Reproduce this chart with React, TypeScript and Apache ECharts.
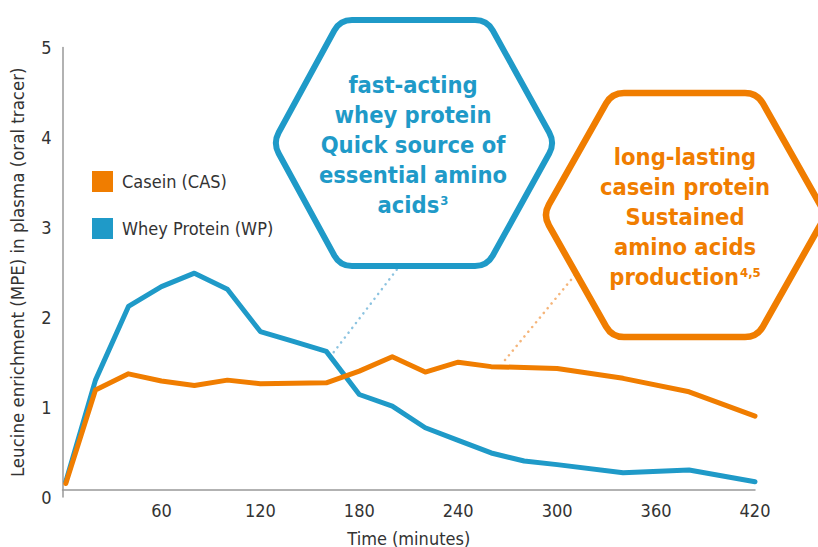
import React, { useEffect, useRef } from "react";
import * as echarts from "echarts";

const times = [2, 20, 40, 60, 80, 100, 120, 140, 160, 180, 200, 220, 240, 260, 280, 300, 340, 380, 420];
const casein = [0.15, 1.19, 1.37, 1.29, 1.24, 1.3, 1.26, 1.265, 1.27, 1.4, 1.56, 1.39, 1.5, 1.45, 1.44, 1.43, 1.32, 1.17, 0.9];
const whey = [0.17, 1.3, 2.12, 2.34, 2.49, 2.31, 1.84, 1.73, 1.62, 1.14, 1.01, 0.77, 0.63, 0.49, 0.4, 0.36, 0.27, 0.3, 0.17];
const seriesNames = ["Casein (CAS)", "Whey Protein (WP)"];
const xTicks = [60, 120, 180, 240, 300, 360, 420];
const blueText = ["fast-acting", "whey protein", "Quick source of", "essential amino", "acids"];
const orangeText = ["long-lasting", "casein protein", "Sustained", "amino acids", "production"];

const ORANGE = "#f07d00";
const BLUE = "#1f9ac8";
const FONT = "'DejaVu Sans Condensed', 'Liberation Sans Narrow', 'Noto Sans', sans-serif";

function roundedPath(pts: number[][], r: number): string {
  const n = pts.length;
  let d = "";
  for (let i = 0; i < n; i++) {
    const p0 = pts[(i - 1 + n) % n];
    const p1 = pts[i];
    const p2 = pts[(i + 1) % n];
    const v1 = [p0[0] - p1[0], p0[1] - p1[1]];
    const v2 = [p2[0] - p1[0], p2[1] - p1[1]];
    const l1 = Math.hypot(v1[0], v1[1]);
    const l2 = Math.hypot(v2[0], v2[1]);
    const a = [p1[0] + (v1[0] / l1) * r, p1[1] + (v1[1] / l1) * r];
    const b = [p1[0] + (v2[0] / l2) * r, p1[1] + (v2[1] / l2) * r];
    d += (i === 0 ? "M" : "L") + a[0].toFixed(1) + " " + a[1].toFixed(1) + " ";
    d += "Q" + p1[0] + " " + p1[1] + " " + b[0].toFixed(1) + " " + b[1].toFixed(1) + " ";
  }
  return d + "Z";
}

const hexBlue = [[340, 20], [487, 20], [555, 143], [487, 266], [340, 266], [273, 143]];
const hexOrange = [[612, 93], [757, 93], [826, 215], [757, 337], [612, 337], [543, 215]];

let registered = false;

export default function App() {
  const ref = useRef<HTMLDivElement>(null);
  useEffect(() => {
    if (!registered) {
      echarts.graphic.registerShape("hexBlue", echarts.graphic.extendPath(roundedPath(hexBlue, 12), {}));
      echarts.graphic.registerShape("hexOrange", echarts.graphic.extendPath(roundedPath(hexOrange, 12), {}));
      registered = true;
    }
    const chart = echarts.init(ref.current!, null, { renderer: "svg" });
    const mk = (lines: string[], sup: string) =>
      lines.map((l, i) => (i === lines.length - 1 ? `{m|${l}}{s|${sup}}` : `{m|${l}}`)).join("\n");
    const rich = (color: string) => ({
      m: { fontFamily: FONT, fontWeight: "bold", fontSize: 23.5, fill: color, lineHeight: 30 },
      s: { fontFamily: FONT, fontWeight: "bold", fontSize: 13, fill: color, lineHeight: 30, padding: [0, 0, 10, 1] },
    });
    chart.setOption({
      animation: false,
      grid: { left: 62.5, right: 63, top: 47.5, bottom: 50, containLabel: false, outerBoundsMode: "none" },
      legend: {
        orient: "vertical",
        left: 92,
        top: 171,
        padding: 0,
        itemWidth: 21,
        itemHeight: 21,
        itemGap: 26,
        icon: "rect",
        textStyle: { fontFamily: FONT, fontSize: 18, color: "#333", padding: [0, 0, 0, 4] },
        data: seriesNames,
      },
      xAxis: {
        type: "value",
        min: 0,
        max: 420,
        interval: 60,
        offset: -7,
        name: "Time (minutes)",
        nameLocation: "middle",
        nameGap: 39,
        nameTextStyle: { fontFamily: FONT, fontSize: 18, color: "#333" },
        axisLine: { onZero: false, lineStyle: { color: "#999", width: 1.5 } },
        axisTick: { show: false },
        splitLine: { show: false },
        axisLabel: {
          fontFamily: FONT,
          fontSize: 18,
          color: "#333",
          margin: 11,
          formatter: (v: number) => (xTicks.includes(v) ? String(v) : ""),
        },
      },
      yAxis: {
        type: "value",
        min: 0,
        max: 5,
        interval: 1,
        name: "Leucine enrichment (MPE) in plasma (oral tracer)",
        nameLocation: "middle",
        nameGap: 36,
        nameTextStyle: { fontFamily: FONT, fontSize: 18.5, color: "#333" },
        axisLine: { show: true, lineStyle: { color: "#999", width: 1.5 } },
        axisTick: { show: false },
        splitLine: { show: false },
        axisLabel: { fontFamily: FONT, fontSize: 18, color: "#333", margin: 11 },
      },
      series: [
        {
          name: seriesNames[0],
          type: "line",
          data: times.map((t, i) => [t, casein[i]]),
          showSymbol: false,
          symbol: "none",
          itemStyle: { color: ORANGE },
          lineStyle: { color: ORANGE, width: 5, cap: "round", join: "round" },
          z: 3,
        },
        {
          name: seriesNames[1],
          type: "line",
          data: times.map((t, i) => [t, whey[i]]),
          showSymbol: false,
          symbol: "none",
          itemStyle: { color: BLUE },
          lineStyle: { color: BLUE, width: 5, cap: "round", join: "round" },
          z: 2,
        },
      ],
      graphic: [
        {
          type: "line",
          shape: { x1: 330, y1: 357, x2: 398, y2: 268 },
          style: { stroke: "#8cc3e0", lineWidth: 2.5, lineDash: [0.1, 6], lineCap: "round" },
          z: 1,
        },
        {
          type: "line",
          shape: { x1: 505, y1: 360, x2: 575, y2: 275 },
          style: { stroke: "#f5b57a", lineWidth: 2.5, lineDash: [0.1, 6], lineCap: "round" },
          z: 1,
        },
        {
          type: "hexBlue",
          x: 0,
          y: 0,
          style: { fill: "#fff", stroke: BLUE, lineWidth: 6 },
          z: 10,
        },
        {
          type: "hexOrange",
          x: 0,
          y: 0,
          style: { fill: "#fff", stroke: ORANGE, lineWidth: 6.5 },
          z: 10,
        },
        {
          type: "text",
          x: 413,
          y: 145,
          z: 11,
          style: {
            text: mk(blueText, "3"),
            rich: rich(BLUE),
            fill: BLUE,
            align: "center",
            verticalAlign: "middle",
          },
        },
        {
          type: "text",
          x: 685,
          y: 217,
          z: 11,
          style: {
            text: mk(orangeText, "4,5"),
            rich: rich(ORANGE),
            fill: ORANGE,
            align: "center",
            verticalAlign: "middle",
          },
        },
      ],
    });
    return () => chart.dispose();
  }, []);
  return <div ref={ref} style={{ position: "fixed", left: 0, top: 0, width: 818, height: 547, background: "#fff" }} />;
}
